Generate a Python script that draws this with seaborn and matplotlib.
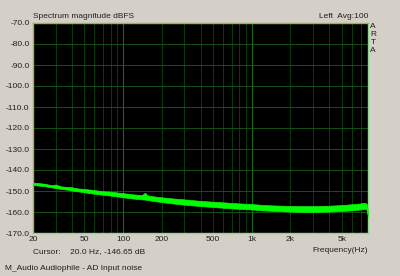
import numpy as np
import pandas as pd
import matplotlib
matplotlib.use("Agg")
import matplotlib.pyplot as plt
import seaborn as sns

freq = [20, 22, 25, 28, 30, 33, 36, 40, 45, 50, 55, 60, 70, 80, 90, 100, 120,
        140, 148, 155, 180, 200, 250, 300, 400, 500, 600, 700, 800, 1000, 1200,
        1500, 2000, 2500, 3000, 3500, 4000, 5000, 6000, 7000, 7500, 7800, 8000]
db_upper = [-146.0, -146.2, -146.6, -147.3, -146.9, -147.8, -148.0, -148.2, -148.8,
            -149.0, -149.3, -149.6, -150.1, -150.3, -150.7, -151.0, -151.6,
            -152.0, -150.8, -152.1, -152.7, -153.0, -153.6, -154.0, -154.7, -155.1,
            -155.4, -155.7, -155.9, -156.2, -156.6, -156.9, -157.1, -157.2, -157.2,
            -157.1, -157.0, -156.7, -156.3, -155.9, -155.6, -156.0, -159.5]
db_lower = [-147.2, -147.4, -147.8, -148.3, -148.6, -149.0, -149.3, -149.8, -150.2,
            -150.6, -151.0, -151.3, -151.8, -152.2, -152.6, -153.0, -153.6,
            -154.0, -154.1, -154.3, -154.9, -155.3, -156.0, -156.5, -157.2, -157.6,
            -158.0, -158.3, -158.5, -158.8, -159.2, -159.5, -159.8, -160.0, -160.0,
            -159.9, -159.8, -159.5, -159.2, -158.8, -158.5, -158.8, -162.0]

x_ticks = [20, 50, 100, 200, 500, 1000, 2000, 5000]
x_labels = ["20", "50", "100", "200", "500", "1k", "2k", "5k"]
y_ticks = [-70, -80, -90, -100, -110, -120, -130, -140, -150, -160, -170]

df = pd.DataFrame({"freq": freq, "upper": db_upper, "lower": db_lower})
df["mid"] = (df["upper"] + df["lower"]) / 2

plt.rcParams["font.family"] = ["Liberation Sans", "DejaVu Sans"]
bg = "#D4D0C8"
fig = plt.figure(figsize=(4.0, 2.76), dpi=100, facecolor=bg)
ax = fig.add_axes([33 / 400, 43 / 276, 335 / 400, 210 / 276])
ax.set_facecolor("black")

ax.set_xscale("log")
ax.set_xlim(20, 8000)
ax.set_ylim(-170, -70)

# grid
minor = [f for f in range(20, 100, 10)] + [f for f in range(200, 1000, 100)] + \
        [f for f in range(2000, 8000, 1000)]
for f in minor:
    ax.axvline(f, color="#0A3C0A", lw=0.7, zorder=1)
for f in [100, 1000]:
    ax.axvline(f, color="#176A17", lw=0.8, zorder=1)
for y in y_ticks:
    ax.axhline(y, color="#145214", lw=0.7, zorder=1)

ax.fill_between(df["freq"], df["lower"], df["upper"], color="#00FF00", lw=0.5,
                edgecolor="#10F010", zorder=3)
sns.lineplot(data=df, x="freq", y="mid", ax=ax, color="#00FF00", lw=0.8,
             zorder=4, legend=False)

ax.set_xticks(x_ticks)
ax.set_xticklabels(x_labels)
ax.xaxis.set_minor_locator(matplotlib.ticker.NullLocator())
ax.set_yticks(y_ticks)
ax.set_yticklabels([f"{v:.1f}" for v in y_ticks])
ax.tick_params(length=0, labelsize=6, colors="#202020", pad=2.5)
ax.set_xlabel("")
ax.set_ylabel("")

for side in ["left", "top"]:
    ax.spines[side].set_color("#A8B040")
for side in ["right", "bottom"]:
    ax.spines[side].set_color("#90D890")
for s in ax.spines.values():
    s.set_linewidth(1.0)

tc = "#202020"
fig.text(33 / 400, 1 - 17 / 276, "Spectrum magnitude dBFS", fontsize=6, color=tc,
         va="center", ha="left")
fig.text(368 / 400, 1 - 17 / 276, "Left  Avg:100", fontsize=6, color=tc,
         va="center", ha="right")
for i, ch in enumerate("ARTA"):
    fig.text(373 / 400, 1 - (27 + i * 8) / 276, ch, fontsize=6, color=tc,
             va="center", ha="center")
fig.text(368 / 400, 1 - 251 / 276, "Frequency(Hz)", fontsize=6, color=tc,
         va="center", ha="right")
fig.text(33 / 400, 1 - 252 / 276, "Cursor:    20.0 Hz, -146.65 dB", fontsize=6,
         color=tc, va="center", ha="left")
fig.text(5 / 400, 1 - 268 / 276, "M_Audio Audiophile - AD Input noise", fontsize=6,
         color=tc, va="center", ha="left")

fig.savefig("out.png", dpi=100, facecolor=bg)
